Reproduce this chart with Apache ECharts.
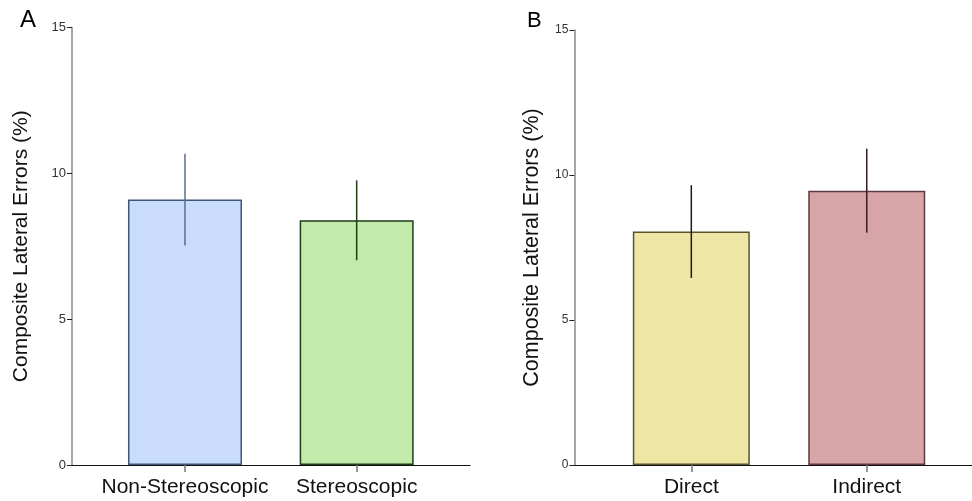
<!DOCTYPE html>
<html>
<head>
<meta charset="utf-8">
<script src="https://cdn.jsdelivr.net/npm/echarts@6/dist/echarts.min.js"></script>
<style>html,body{margin:0;padding:0;background:#fff}#c{width:972px;height:501px}</style>
</head>
<body>
<div id="c"></div>
<script>
// Panel A data
var catsA = ['Non-Stereoscopic', 'Stereoscopic'];
var meanA = [9.10, 8.39];
var errA = [1.57, 1.37];
// Panel B data
var catsB = ['Direct', 'Indirect'];
var meanB = [8.05, 9.46];
var errB = [1.60, 1.45];
// y ticks
var yTicks = [0, 5, 10, 15];

var fillA = ['#c9ddfb', '#c1eaab'];
var edgeA = ['#3f5676', '#1f3d17'];
var whiskA = ['#5b6f8a', '#1f3d12'];
var fillB = ['#efe5a5', '#d7a4a8'];
var edgeB = ['#5a5432', '#5e3a3e'];
var whiskB = ['#1a1a1a', '#3a1a1e'];

var FONT = 'Liberation Sans, Arial, sans-serif';

function barData(means, fills, edges) {
  return means.map(function (v, i) {
    return { value: [i + 1, v], itemStyle: { color: fills[i], borderColor: edges[i], borderWidth: 1.5 } };
  });
}
function errData(means, errs) {
  return means.map(function (v, i) { return [i + 1, v - errs[i], v + errs[i]]; });
}
function errRender(colors) {
  return function (params, api) {
    var x = api.value(0);
    var p1 = api.coord([x, api.value(1)]);
    var p2 = api.coord([x, api.value(2)]);
    return {
      type: 'line',
      shape: { x1: p1[0], y1: p1[1], x2: p2[0], y2: p2[1] },
      style: { stroke: colors[params.dataIndex], lineWidth: 1.5 }
    };
  };
}
function xAxisCfg(idx, min, max, cats) {
  return {
    type: 'value', gridIndex: idx, min: min, max: max,
    splitLine: { show: false },
    axisLine: { show: true, onZero: false, lineStyle: { color: '#111', width: 1.2 } },
    axisTick: { show: true, customValues: [1, 2], length: 7, lineStyle: { color: '#777', width: 1.5 } },
    axisLabel: {
      customValues: [1, 2], margin: 12, fontSize: 21, color: '#111', fontFamily: FONT,
      formatter: function (v) { return cats[Math.round(v) - 1] || ''; }
    }
  };
}
function yAxisCfg(idx, fs, gap, namefs) {
  return {
    type: 'value', gridIndex: idx, min: yTicks[0], max: yTicks[yTicks.length - 1], interval: 5,
    name: 'Composite Lateral Errors (%)', nameLocation: 'middle', nameGap: gap, nameRotate: 90,
    nameTextStyle: { fontSize: namefs, color: '#111', fontFamily: FONT },
    splitLine: { show: false },
    axisLine: { show: true, lineStyle: { color: '#888', width: 1.5 } },
    axisTick: { show: true, length: 5, lineStyle: { color: '#222', width: 1 } },
    axisLabel: { fontSize: fs, color: '#333', margin: 6, fontFamily: FONT }
  };
}

var chart = echarts.init(document.getElementById('c'), null, { renderer: 'canvas' });
chart.setOption({
  animation: false,
  backgroundColor: '#fff',
  grid: [
    { left: 72, top: 27.5, width: 398, height: 437.5 },
    { left: 574.3, top: 30, width: 397.7, height: 435 }
  ],
  xAxis: [xAxisCfg(0, 0.342, 2.66, catsA), xAxisCfg(1, 0.333, 2.6, catsB)],
  yAxis: [yAxisCfg(0, 13, 40, 21), yAxisCfg(1, 12, 31, 21.5)],
  graphic: [
    { type: 'text', left: 20, top: 8, style: { text: 'A', fontSize: 24, fill: '#000', font: '24px ' + FONT } },
    { type: 'text', left: 527, top: 10, style: { text: 'B', fontSize: 22, fill: '#000', font: '22px ' + FONT } }
  ],
  series: [
    { type: 'bar', xAxisIndex: 0, yAxisIndex: 0, barWidth: 114, data: barData(meanA, fillA, edgeA) },
    { type: 'custom', xAxisIndex: 0, yAxisIndex: 0, renderItem: errRender(whiskA), data: errData(meanA, errA), z: 5 },
    { type: 'bar', xAxisIndex: 1, yAxisIndex: 1, barWidth: 117, data: barData(meanB, fillB, edgeB) },
    { type: 'custom', xAxisIndex: 1, yAxisIndex: 1, renderItem: errRender(whiskB), data: errData(meanB, errB), z: 5 }
  ]
});
</script>
</body>
</html>
